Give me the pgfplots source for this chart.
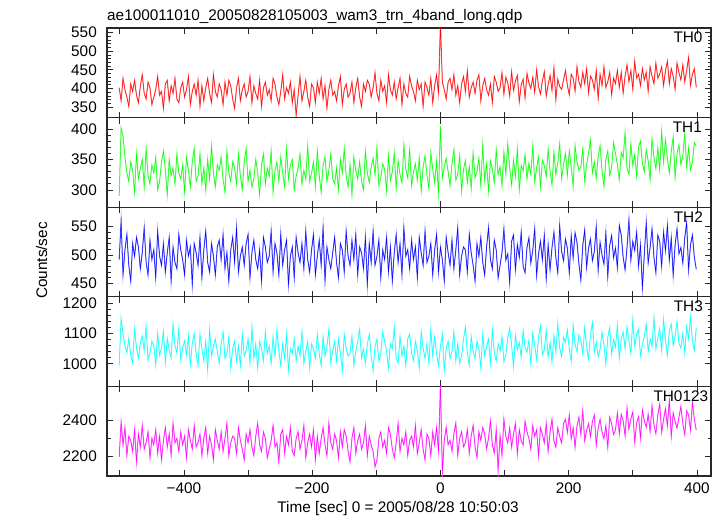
\documentclass[border=0pt]{standalone}
\usepackage{pgfplots}
\pgfplotsset{compat=1.18}
\usepackage{pgfplotstable}
\usepackage{fontspec}
\setmainfont{Liberation Sans}

\definecolor{lr}{RGB}{255,140,140}
\definecolor{lg}{RGB}{150,255,150}
\definecolor{lb}{RGB}{140,140,255}
\definecolor{lc}{RGB}{150,255,255}
\definecolor{lm}{RGB}{255,140,255}
\definecolor{pr}{RGB}{255,0,0}
\definecolor{pg}{RGB}{0,255,0}
\definecolor{pb}{RGB}{0,0,255}
\definecolor{pc}{RGB}{0,255,255}
\definecolor{pm}{RGB}{255,0,255}
\definecolor{frame}{RGB}{40,40,40}

% t = time [s], a = TH0, b = TH1, c = TH2, d = TH3, e = TH0123 (counts/sec)
\pgfplotstableread{
t a b c d e
-501 402 290 492 995 2195
-498 367 402 560 1150 2390
-495 427 388 465 1100 2263
-492 397 354 509 1060 2359
-489 377 328 536 1036 2203
-486 352 314 482 1084 2311
-483 412 346 454 1028 2287
-480 392 332 520 1004 2227
-477 422 296 498 1116 2347
-474 382 359 531 1052 2167
-471 362 318 514 1020 2323
-468 407 336 476 1068 2251
-465 437 350 504 1092 2371
-462 387 305 548 1044 2239
-459 372 368 487 1124 2275
-456 417 323 465 1012 2335
-453 402 310 526 1036 2191
-450 357 341 492 1076 2299
-447 377 328 509 1060 2263
-444 397 354 460 996 2347
-441 432 300 542 1100 2215
-438 382 314 498 1028 2311
-435 392 346 482 1052 2179
-432 347 364 520 1108 2287
-429 412 332 470 1004 2359
-426 422 292 504 1084 2251
-423 367 350 531 1044 2323
-420 407 323 454 1020 2203
-417 387 336 514 1132 2383
-414 427 310 487 1060 2275
-411 372 359 476 1036 2299
-408 362 328 536 1116 2227
-405 402 318 509 1012 2335
-402 417 341 492 1052 2263
-399 377 296 465 1076 2311
-396 397 354 526 1028 2191
-393 432 332 498 1092 2347
-390 357 305 514 996 2287
-387 392 346 448 1068 2239
-384 412 368 520 1100 2371
-381 382 314 504 1034 2251
-378 422 323 482 994 2275
-375 352 359 531 1098 2323
-372 407 310 460 1050 2203
-369 367 336 509 1010 2299
-366 402 300 542 1074 2359
-363 427 350 487 978 2215
-360 387 318 470 1114 2311
-357 362 372 520 1026 2263
-354 437 328 498 1058 2179
-351 392 305 465 1082 2347
-348 377 341 514 1042 2287
-345 412 332 526 1002 2239
-342 397 354 492 1066 2335
-339 357 318 536 1106 2227
-336 417 296 476 1018 2299
-333 382 364 504 1034 2383
-330 422 328 454 1090 2203
-327 407 314 509 986 2275
-324 372 346 531 1050 2311
-321 347 336 487 1074 2299
-318 402 310 548 1010 2215
-315 427 359 470 1058 2359
-312 367 323 498 994 2287
-309 397 300 514 1098 2239
-306 412 346 482 1026 2179
-303 377 368 520 1042 2323
-300 392 314 536 1082 2275
-297 432 332 460 1002 2347
-294 362 305 504 1122 2251
-291 407 318 526 1018 2203
-288 387 350 492 1066 2311
-285 372 328 476 986 2383
-282 422 292 509 1074 2263
-279 352 341 454 1050 2227
-276 402 359 531 1010 2335
-273 417 310 514 1106 2299
-270 382 336 487 1034 2191
-267 397 323 498 1058 2239
-264 367 364 542 1002 2287
-261 427 296 470 1090 2371
-258 412 332 520 1026 2251
-255 377 346 504 1114 2275
-252 357 314 465 1042 2167
-249 392 354 536 994 2323
-246 437 328 482 1066 2347
-243 372 305 509 1018 2215
-240 402 368 526 1098 2311
-237 387 318 448 978 2263
-234 417 341 498 1050 2359
-231 362 350 514 1034 2227
-228 397 300 460 1082 2203
-225 328 323 531 1010 2299
-222 382 336 504 1058 2335
-219 432 359 487 1026 2239
-216 367 310 520 1106 2287
-213 392 332 476 1002 2371
-210 422 318 542 1042 2191
-207 377 372 492 1074 2275
-204 352 314 470 986 2323
-201 412 328 509 1066 2251
-198 402 346 536 1050 2347
-195 362 305 465 1018 2179
-192 417 364 498 1098 2311
-189 387 323 526 1034 2215
-186 427 296 482 994 2299
-183 372 341 548 1090 2359
-180 407 354 454 1026 2263
-177 347 314 514 1058 2203
-174 397 332 492 1114 2383
-171 422 359 476 1002 2275
-168 382 318 504 1042 2239
-165 392 310 531 1074 2323
-162 367 336 487 1010 2287
-159 407 300 460 1082 2191
-156 432 350 520 1034 2335
-153 357 328 509 978 2251
-150 397 368 470 1098 2347
-147 412 323 542 1050 2311
-144 377 305 498 1026 2227
-141 387 341 482 1034 2167
-138 417 292 526 1090 2299
-135 362 354 492 994 2359
-132 402 332 536 1042 2215
-129 427 318 465 1074 2287
-126 377 346 514 1114 2323
-123 352 314 504 1018 2239
-120 412 300 476 1050 2275
-117 392 364 531 1002 2371
-114 422 328 448 1066 2203
-111 412 312 520 1098 2311
-108 377 338 487 1026 2263
-105 402 352 542 978 2227
-102 442 325 482 1058 2140
-99 387 370 498 1082 2179
-96 367 307 526 1010 2299
-93 422 320 460 1034 2335
-90 392 343 509 1106 2251
-87 407 334 492 1074 2287
-84 362 298 531 1042 2215
-81 437 356 470 986 2359
-78 397 316 514 1066 2323
-75 382 330 454 1050 2239
-72 417 361 504 1122 2191
-69 372 302 536 1018 2275
-66 402 348 487 1002 2383
-63 427 325 520 1090 2227
-60 357 312 465 1026 2299
-57 412 374 548 1058 2263
-54 387 334 498 994 2335
-51 377 320 509 1082 2203
-48 432 366 476 1098 2287
-45 407 307 526 1034 2311
-42 392 330 492 1010 2251
-39 367 343 514 1074 2371
-36 422 316 460 1042 2215
-33 397 352 531 986 2275
-30 412 298 504 1106 2347
-27 352 338 482 1050 2239
-24 417 356 542 1018 2179
-21 402 325 487 1066 2323
-18 382 302 498 1002 2299
-15 427 361 520 1114 2203
-12 362 334 465 1026 2335
-9 407 312 509 1090 2263
-6 437 348 536 1034 2359
-3 387 294 470 994 2227
0 575 405 514 1058 2600
3 417 320 492 1098 2110
6 397 338 454 978 2287
9 372 352 531 1050 2360
12 417 330 504 1074 2264
15 427 307 482 1018 2288
18 397 343 526 1042 2228
21 437 366 476 1106 2324
24 382 316 509 1010 2384
27 407 325 548 1066 2204
30 362 356 465 1002 2300
33 412 298 498 1026 2336
36 432 334 514 1082 2252
39 392 348 509 1122 2276
42 447 312 470 1034 2348
45 377 338 536 994 2216
48 402 302 504 1090 2312
51 417 361 482 1042 2372
54 387 320 454 1018 2252
57 422 330 520 1074 2192
60 437 352 498 1050 2336
63 367 307 531 986 2288
66 407 374 487 1098 2360
69 427 316 465 1026 2324
72 397 343 514 1058 2240
75 382 298 548 1082 2300
78 412 348 492 1002 2396
81 362 334 476 1114 2264
84 432 312 526 1034 2216
87 417 366 509 1010 2348
90 392 325 460 1066 2120
93 402 338 482 1042 2312
96 442 307 504 1090 2204
99 385 362 546 1006 2406
102 430 326 491 1030 2310
105 415 376 502 1086 2274
108 380 336 452 1118 2358
111 445 308 524 1062 2250
114 395 349 535 990 2322
117 420 322 474 1094 2382
120 435 367 518 1046 2214
123 365 300 496 1070 2346
126 410 340 540 1022 2286
129 425 331 480 1110 2262
132 375 358 469 1054 2394
135 440 318 513 1038 2334
138 415 344 530 1078 2298
141 400 326 486 998 2238
144 430 372 508 1102 2370
147 390 313 546 1062 2310
150 450 336 464 1014 2346
153 405 354 502 1086 2202
156 385 304 524 1126 2358
159 420 349 491 1030 2322
162 445 340 535 1046 2274
165 380 322 458 1110 2382
168 410 367 518 1022 2226
171 435 331 474 1070 2334
174 395 308 513 1006 2406
177 455 362 540 1094 2286
180 370 326 496 1038 2250
183 425 344 469 1134 2358
186 405 376 552 1054 2310
189 398 319 506 1024 2273
192 423 342 490 1088 2381
195 448 360 528 1072 2405
198 408 324 512 1112 2333
201 383 364 468 1048 2429
204 438 337 534 1008 2297
207 428 306 495 1128 2357
210 393 373 539 1064 2249
213 458 346 522 1040 2369
216 418 332 484 1096 2417
219 403 337 456 1080 2321
222 443 368 517 1032 2453
225 413 314 544 1120 2285
228 453 342 478 1056 2345
231 388 360 512 1016 2381
234 433 382 528 1096 2309
237 423 328 490 1136 2393
240 398 346 506 1040 2429
243 448 319 550 1072 2261
246 373 355 473 1024 2357
249 438 373 522 1048 2405
252 408 332 500 1104 2333
255 458 306 484 1064 2297
258 403 350 539 1000 2369
261 418 364 462 1088 2249
264 443 324 517 1120 2417
267 383 337 534 1032 2381
270 428 378 495 1080 2321
273 413 360 512 1056 2345
276 448 342 478 1128 2441
279 403 317 552 1018 2325
282 443 362 535 1082 2433
285 388 353 496 1106 2397
288 433 394 474 1050 2313
291 463 335 513 1122 2469
294 418 326 562 1074 2349
297 448 376 491 1034 2409
300 398 340 524 1146 2445
303 473 358 508 1058 2277
306 428 322 540 1098 2385
309 438 371 480 1114 2421
312 408 380 518 1026 2301
315 453 344 442 1066 2457
318 423 330 502 1090 2397
321 443 366 557 1130 2361
324 393 348 486 1042 2433
327 458 317 513 1082 2337
330 433 384 546 1058 2481
333 413 353 496 1154 2373
336 468 335 469 1050 2325
339 428 369 535 1084 2429
342 438 333 524 1116 2489
345 458 396 480 1044 2333
348 408 346 540 1148 2405
351 448 382 508 1076 2465
354 473 351 552 1028 2369
357 413 328 491 1108 2513
360 453 364 530 1132 2309
363 433 387 464 1060 2441
366 398 320 518 1092 2393
369 468 360 546 1140 2357
372 443 374 502 1068 2417
375 423 342 513 1052 2477
378 463 356 486 1100 2381
381 418 392 530 1036 2321
384 448 338 557 1124 2453
387 483 369 474 1084 2429
390 408 333 518 1156 2345
393 438 346 535 1076 2501
396 453 378 496 1044 2405
399 403 372 475 1120 2345
}\wamdata

\pgfplotsset{
  panel/.style={
    width=604bp, height=89.6bp, scale only axis,
    anchor=north west,
    xmin=-520, xmax=422,
    xtick={-500,-400,...,400},
    xticklabels={,,},
    scaled ticks=false,
    tick align=inside,
    major tick length=6bp, minor tick length=3.5bp,
    axis line style={frame, line width=1.1bp},
    every tick/.style={frame, line width=0.7bp},
    tick label style={font=\fontsize{15.4}{17}\selectfont},
    yticklabel style={inner sep=0pt, xshift=-10bp},
    /pgf/number format/assume math mode=true,
    /pgf/number format/1000 sep={},
    clip=true,
  },
  halo/.style={color=#1, line width=1.1pt, line join=miter, miter limit=25},
  core/.style={color=#1, line width=0.45pt, line join=miter, miter limit=25},
}
\tikzset{thlabel/.style={anchor=north east, inner sep=0pt,
    font=\fontsize{15.4}{17}\selectfont}}

\begin{document}
\begin{tikzpicture}
\useasboundingbox (0,0) rectangle (722bp,-516bp);

\begin{axis}[panel, at={(107bp,-28bp)}, ymin=322, ymax=562,
  ytick={350,400,...,550}, minor y tick num=4]
  \addplot[halo=lr] table[x=t,y=a]{\wamdata};
  \addplot[core=pr] table[x=t,y=a]{\wamdata};
  \node[thlabel] at (rel axis cs:1,1) [xshift=-8.3bp, yshift=-3.7bp] {TH0};
\end{axis}

\begin{axis}[panel, at={(107bp,-117.6bp)}, ymin=271.5, ymax=419,
  ytick={300,350,400}, minor y tick num=4]
  \addplot[halo=lg] table[x=t,y=b]{\wamdata};
  \addplot[core=pg] table[x=t,y=b]{\wamdata};
  \node[thlabel] at (rel axis cs:1,1) [xshift=-9bp, yshift=-4bp] {TH1};
\end{axis}

\begin{axis}[panel, at={(107bp,-207.2bp)}, ymin=426.5, ymax=584,
  ytick={450,500,550}, minor y tick num=4]
  \addplot[halo=lb] table[x=t,y=c]{\wamdata};
  \addplot[core=pb] table[x=t,y=c]{\wamdata};
  \node[thlabel] at (rel axis cs:1,1) [xshift=-8bp, yshift=-4bp] {TH2};
\end{axis}

\begin{axis}[panel, at={(107bp,-296.8bp)}, ymin=925, ymax=1222,
  ytick={1000,1100,1200}, minor y tick num=4]
  \addplot[halo=lc] table[x=t,y=d]{\wamdata};
  \addplot[core=pc] table[x=t,y=d]{\wamdata};
  \node[thlabel] at (rel axis cs:1,1) [xshift=-8bp, yshift=-4bp] {TH3};
\end{axis}

\begin{axis}[panel, at={(107bp,-386.4bp)}, ymin=2089, ymax=2589,
  ytick={2200,2400}, minor y tick num=1,
  xticklabels={,−400,,−200,,0,,200,,400},
  xticklabel style={inner sep=0pt, anchor=north, yshift=-7bp}]
  \addplot[halo=lm] table[x=t,y=e]{\wamdata};
  \addplot[core=pm] table[x=t,y=e]{\wamdata};
  \node[thlabel] at (rel axis cs:1,1) [xshift=-2.7bp, yshift=-4.5bp] {TH0123};
\end{axis}

\node[anchor=base west, inner sep=0pt, font=\fontsize{15.4}{17}\selectfont]
  at (107bp,-20bp) {ae100011010\_20050828105003\_wam3\_trn\_4band\_long.qdp};
\node[anchor=base, inner sep=0pt, font=\fontsize{15.4}{17}\selectfont]
  at (398bp,-512bp) {Time [sec] 0 = 2005/08/28 10:50:03};
\node[anchor=base, inner sep=0pt, rotate=90, font=\fontsize{15.4}{17}\selectfont]
  at (47bp,-260.5bp) {Counts/sec};
\end{tikzpicture}
\end{document}
